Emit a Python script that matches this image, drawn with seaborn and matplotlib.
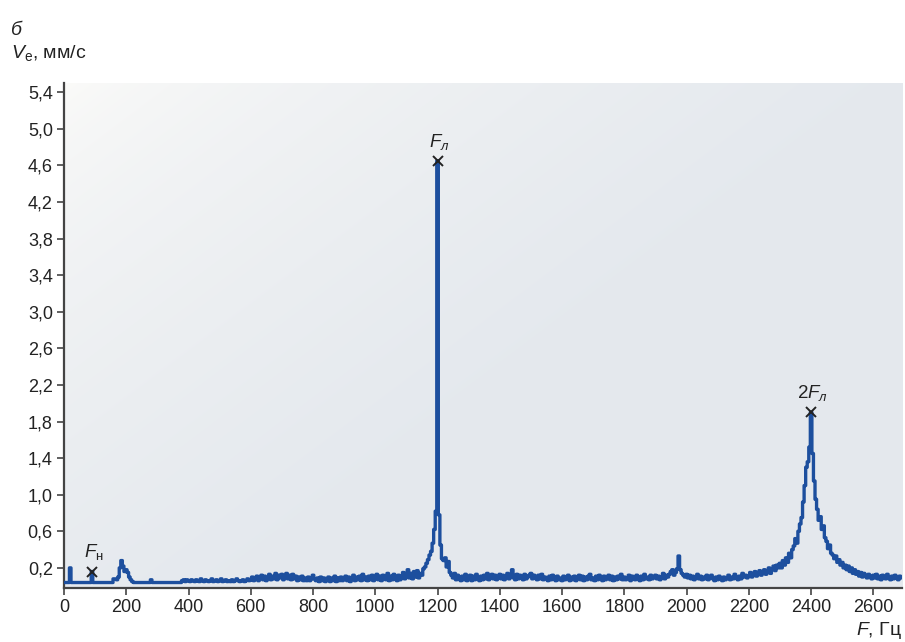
import numpy as np
import pandas as pd
import matplotlib
matplotlib.use("Agg")
import matplotlib.pyplot as plt
import seaborn as sns

# Vibration velocity spectrum, 5 Hz resolution, 0..2690 Hz
freq_step = 5
amplitude = [
    # 0-95
    0.04, 0.04, 0.04, 0.04, 0.20, 0.04, 0.04, 0.04, 0.04, 0.04, 0.04, 0.04, 0.04, 0.04, 0.04, 0.04, 0.04, 0.04, 0.16, 0.04,
    # 100-195
    0.04, 0.04, 0.04, 0.04, 0.04, 0.04, 0.04, 0.04, 0.04, 0.04, 0.04, 0.04, 0.08, 0.08, 0.07, 0.10, 0.20, 0.28, 0.22, 0.16,
    # 200-295
    0.18, 0.15, 0.10, 0.07, 0.05, 0.04, 0.04, 0.04, 0.04, 0.04, 0.04, 0.04, 0.04, 0.04, 0.04, 0.04, 0.07, 0.04, 0.04, 0.04,
    # 300-395
    0.04, 0.04, 0.04, 0.04, 0.04, 0.04, 0.04, 0.04, 0.04, 0.04, 0.04, 0.04, 0.04, 0.04, 0.04, 0.04, 0.06, 0.07, 0.05, 0.07,
    # 400-495
    0.06, 0.05, 0.07, 0.06, 0.05, 0.07, 0.06, 0.05, 0.08, 0.06, 0.05, 0.07, 0.06, 0.05, 0.06, 0.08, 0.05, 0.06, 0.07, 0.05,
    # 500-595
    0.06, 0.08, 0.05, 0.06, 0.07, 0.05, 0.06, 0.05, 0.07, 0.05, 0.06, 0.08, 0.06, 0.05, 0.06, 0.07, 0.05, 0.06, 0.08, 0.06,
    # 600-695
    0.07, 0.10, 0.06, 0.09, 0.11, 0.06, 0.10, 0.12, 0.07, 0.11, 0.06, 0.09, 0.13, 0.07, 0.11, 0.08, 0.14, 0.07, 0.12, 0.09,
    # 700-795
    0.13, 0.07, 0.11, 0.14, 0.08, 0.12, 0.07, 0.13, 0.08, 0.11, 0.06, 0.10, 0.07, 0.11, 0.06, 0.09, 0.06, 0.10, 0.06, 0.08,
    # 800-895
    0.12, 0.08, 0.06, 0.09, 0.05, 0.10, 0.06, 0.09, 0.05, 0.08, 0.10, 0.05, 0.09, 0.06, 0.11, 0.05, 0.09, 0.06, 0.10, 0.06,
    # 900-995
    0.08, 0.11, 0.06, 0.10, 0.05, 0.09, 0.12, 0.06, 0.10, 0.07, 0.11, 0.06, 0.13, 0.07, 0.10, 0.06, 0.11, 0.07, 0.12, 0.06,
    # 1000-1095
    0.09, 0.13, 0.07, 0.11, 0.06, 0.12, 0.08, 0.07, 0.14, 0.06, 0.11, 0.07, 0.13, 0.08, 0.06, 0.12, 0.07, 0.11, 0.15, 0.08,
    # 1100-1195
    0.12, 0.18, 0.09, 0.14, 0.08, 0.16, 0.10, 0.17, 0.09, 0.14, 0.12, 0.19, 0.21, 0.25, 0.29, 0.34, 0.38, 0.47, 0.62, 0.82,
    # 1200-1295
    4.65, 0.78, 0.45, 0.30, 0.28, 0.31, 0.21, 0.27, 0.15, 0.12, 0.09, 0.14, 0.07, 0.12, 0.08, 0.06, 0.11, 0.07, 0.13, 0.06,
    # 1300-1395
    0.09, 0.12, 0.06, 0.11, 0.07, 0.13, 0.08, 0.06, 0.11, 0.07, 0.12, 0.08, 0.14, 0.07, 0.10, 0.13, 0.08, 0.12, 0.07, 0.10,
    # 1400-1495
    0.13, 0.08, 0.12, 0.07, 0.10, 0.14, 0.08, 0.11, 0.18, 0.09, 0.07, 0.13, 0.08, 0.12, 0.09, 0.07, 0.13, 0.08, 0.10, 0.12,
    # 1500-1595
    0.14, 0.08, 0.12, 0.09, 0.07, 0.12, 0.08, 0.13, 0.07, 0.10, 0.09, 0.06, 0.11, 0.07, 0.12, 0.08, 0.06, 0.11, 0.07, 0.09,
    # 1600-1695
    0.06, 0.11, 0.07, 0.09, 0.12, 0.06, 0.10, 0.07, 0.11, 0.06, 0.09, 0.12, 0.07, 0.11, 0.06, 0.10, 0.07, 0.11, 0.13, 0.07,
    # 1700-1795
    0.09, 0.06, 0.11, 0.07, 0.12, 0.08, 0.06, 0.11, 0.07, 0.09, 0.12, 0.07, 0.11, 0.06, 0.10, 0.07, 0.11, 0.08, 0.13, 0.07,
    # 1800-1895
    0.10, 0.07, 0.09, 0.12, 0.06, 0.11, 0.08, 0.07, 0.12, 0.08, 0.06, 0.11, 0.07, 0.13, 0.08, 0.10, 0.07, 0.12, 0.08, 0.10,
    # 1900-1995
    0.12, 0.08, 0.11, 0.07, 0.10, 0.14, 0.08, 0.12, 0.10, 0.13, 0.16, 0.18, 0.12, 0.15, 0.19, 0.33, 0.18, 0.14, 0.12, 0.10,
    # 2000-2095
    0.13, 0.09, 0.12, 0.08, 0.11, 0.07, 0.10, 0.13, 0.08, 0.11, 0.07, 0.10, 0.08, 0.12, 0.07, 0.10, 0.12, 0.08, 0.06, 0.10,
    # 2100-2195
    0.07, 0.11, 0.08, 0.06, 0.10, 0.07, 0.09, 0.12, 0.07, 0.10, 0.08, 0.13, 0.10, 0.07, 0.11, 0.08, 0.14, 0.10, 0.12, 0.09,
    # 2200-2295
    0.11, 0.15, 0.10, 0.12, 0.16, 0.11, 0.13, 0.17, 0.12, 0.15, 0.18, 0.13, 0.17, 0.20, 0.14, 0.19, 0.22, 0.17, 0.23, 0.20,
    # 2300-2395
    0.25, 0.20, 0.28, 0.23, 0.31, 0.26, 0.36, 0.31, 0.40, 0.44, 0.52, 0.47, 0.60, 0.68, 0.75, 0.92, 1.10, 1.30, 1.36, 1.52,
    # 2400-2495
    1.90, 1.45, 1.15, 0.95, 0.84, 0.72, 0.76, 0.62, 0.66, 0.53, 0.49, 0.41, 0.45, 0.36, 0.34, 0.30, 0.33, 0.26, 0.29, 0.23,
    # 2500-2595
    0.26, 0.20, 0.23, 0.18, 0.22, 0.16, 0.20, 0.14, 0.18, 0.13, 0.16, 0.11, 0.15, 0.10, 0.14, 0.11, 0.09, 0.13, 0.10, 0.08,
    # 2600-2690
    0.12, 0.09, 0.13, 0.08, 0.11, 0.07, 0.12, 0.09, 0.08, 0.13, 0.09, 0.07, 0.11, 0.08, 0.12, 0.09, 0.07, 0.11, 0.09,
]
frequency = np.arange(len(amplitude)) * freq_step

# Marked spectral components
peak_freqs = [90, 1200, 2400]
peak_labels = [r"$F_{\mathrm{н}}$", r"$F_{л}$", r"$2F_{л}$"]

x_ticks = [0, 200, 400, 600, 800, 1000, 1200, 1400, 1600, 1800, 2000, 2200, 2400, 2600]
y_ticks = [0.2, 0.6, 1.0, 1.4, 1.8, 2.2, 2.6, 3.0, 3.4, 3.8, 4.2, 4.6, 5.0, 5.4]

sns.set_theme(style="white")
plt.rcParams["font.family"] = ["Liberation Sans", "DejaVu Sans"]
plt.rcParams["mathtext.fontset"] = "custom"
plt.rcParams["mathtext.rm"] = "Liberation Sans"
plt.rcParams["mathtext.it"] = "Liberation Sans:italic"

df = pd.DataFrame({"F": frequency, "V": amplitude})

fig = plt.figure(figsize=(9.05, 6.42), dpi=100)
ax = fig.add_axes([0.0707, 0.0841, 0.9260, 0.7866])

# soft background gradient: near white in the upper left, light blue-grey elsewhere
gx, gy = np.meshgrid(np.linspace(0, 1, 300), np.linspace(0, 1, 300))
t = np.clip(1.0 * gx + 0.8 * gy, 0, 1) ** 0.6
c0 = np.array([0.988, 0.986, 0.978])
c1 = np.array([0.895, 0.912, 0.932])
img = c0 + (c1 - c0) * t[..., None]
ax.imshow(img, extent=[0, 1, 0, 1], transform=ax.transAxes, aspect="auto",
          origin="upper", zorder=0, interpolation="bicubic")

line_color = "#1d4f9e"
sns.lineplot(data=df, x="F", y="V", ax=ax, color=line_color, linewidth=2.4,
             drawstyle="steps-mid", zorder=3)

# markers and labels at the marked components
for f, lab in zip(peak_freqs, peak_labels):
    v = df.loc[df["F"] == f, "V"].iloc[0]
    ax.plot([f], [v], marker="x", color="#222222", markersize=7,
            markeredgewidth=1.4, zorder=5)
    ax.text(f + 5, v + 0.1, lab, ha="center", va="bottom", fontsize=13.5,
            color="#222222", zorder=5)

ax.set_xlim(0, 2692)
ax.set_ylim(-0.02, 5.5)
ax.set_xticks(x_ticks)
ax.set_xticklabels([str(v) for v in x_ticks])
ax.set_yticks(y_ticks)
ax.set_yticklabels([f"{v:.1f}".replace(".", ",") for v in y_ticks])
ax.set_xlabel("")
ax.set_ylabel("")

for side in ["top", "right"]:
    ax.spines[side].set_visible(False)
for side in ["left", "bottom"]:
    ax.spines[side].set_color("#444444")
    ax.spines[side].set_linewidth(1.6)
ax.tick_params(axis="both", which="major", direction="out", length=5,
               width=1.2, color="#444444", labelsize=13, labelcolor="#222222",
               pad=3, left=True, bottom=True)

fig.text(0.012, 0.953, "б", fontsize=14, style="italic", color="#222222",
         ha="left", va="center")
fig.text(0.012, 0.918, r"$V_{\mathrm{е}}$, мм/с", fontsize=14, color="#222222",
         ha="left", va="center")
fig.text(0.997, 0.018, r"$F$, Гц", fontsize=14, color="#222222",
         ha="right", va="center")

fig.savefig("out.png", dpi=100)
